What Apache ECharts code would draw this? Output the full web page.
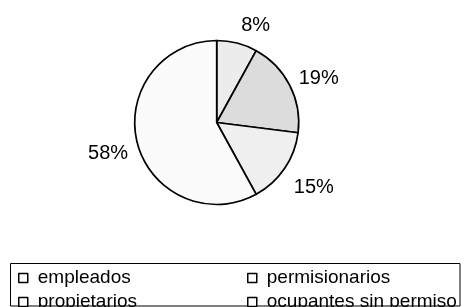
<!DOCTYPE html>
<html>
<head>
<meta charset="utf-8">
<script src="https://cdn.jsdelivr.net/npm/echarts@6/dist/echarts.min.js"></script>
<style>
html,body{margin:0;padding:0;background:#fff;}
#chart{width:464px;height:307px;}
</style>
</head>
<body>
<div id="chart"></div>
<script>
// Data
var categories = ['empleados', 'permisionarios', 'propietarios', 'ocupantes sin permiso'];
var values = [8, 19, 15, 58];

// Styling (not data)
var sliceColors = ['#ececec', '#dcdcdc', '#efefef', '#fbfbfb'];
var labelNudge = [[10.4, 14.2], [-0.5, 8.1], [2, 0.4], [2.8, 2.6]];

var font = "'Liberation Sans', Arial, sans-serif";
var center = [216.7, 122.5];

var pieData = categories.map(function (c, i) {
  return { name: c, value: values[i], itemStyle: { color: sliceColors[i] } };
});
var labelData = categories.map(function (c, i) {
  return { name: c, value: values[i] };
});

var chart = echarts.init(document.getElementById('chart'), null, { renderer: 'canvas' });
var legendCommon = {
  orient: 'vertical',
  padding: 0,
  height: 80,
  itemWidth: 9,
  itemHeight: 9,
  itemGap: 5,
  icon: 'rect',
  selectedMode: false,
  itemStyle: { color: '#ffffff', borderColor: '#000000', borderWidth: 1.5 },
  textStyle: { color: '#000', fontSize: 19, fontFamily: font, lineHeight: 10, padding: [5, 0, 0, 5] }
};
chart.setOption({
  animation: false,
  backgroundColor: '#ffffff',
  legend: [
    Object.assign({}, legendCommon, { left: 18, top: 268.5, data: [categories[0], categories[2]] }),
    Object.assign({}, legendCommon, { left: 247, top: 268.5, data: [categories[1], categories[3]] })
  ],
  graphic: [{
    type: 'rect',
    shape: { x: 10.5, y: 263.5, width: 449.5, height: 42.5 },
    style: { fill: 'none', stroke: '#000', lineWidth: 1 },
    silent: true,
    z: 1
  }],
  series: [
    {
      type: 'pie',
      center: center,
      radius: 82,
      startAngle: 90,
      clockwise: true,
      silent: true,
      label: { show: false },
      labelLine: { show: false },
      itemStyle: { borderColor: '#000', borderWidth: 1.7 },
      emphasis: { disabled: true },
      data: pieData
    },
    {
      type: 'pie',
      center: center,
      radius: [102, 122],
      startAngle: 90,
      clockwise: true,
      silent: true,
      itemStyle: { color: 'rgba(0,0,0,0)', borderWidth: 0 },
      label: {
        show: true,
        position: 'inside',
        color: '#000',
        fontSize: 20,
        fontFamily: font,
        formatter: function (p) { return p.value + '%'; }
      },
      labelLayout: function (p) {
        var n = labelNudge[p.dataIndex];
        return { dx: n[0], dy: n[1] };
      },
      labelLine: { show: false },
      emphasis: { disabled: true },
      data: labelData
    }
  ]
});
</script>
</body>
</html>
